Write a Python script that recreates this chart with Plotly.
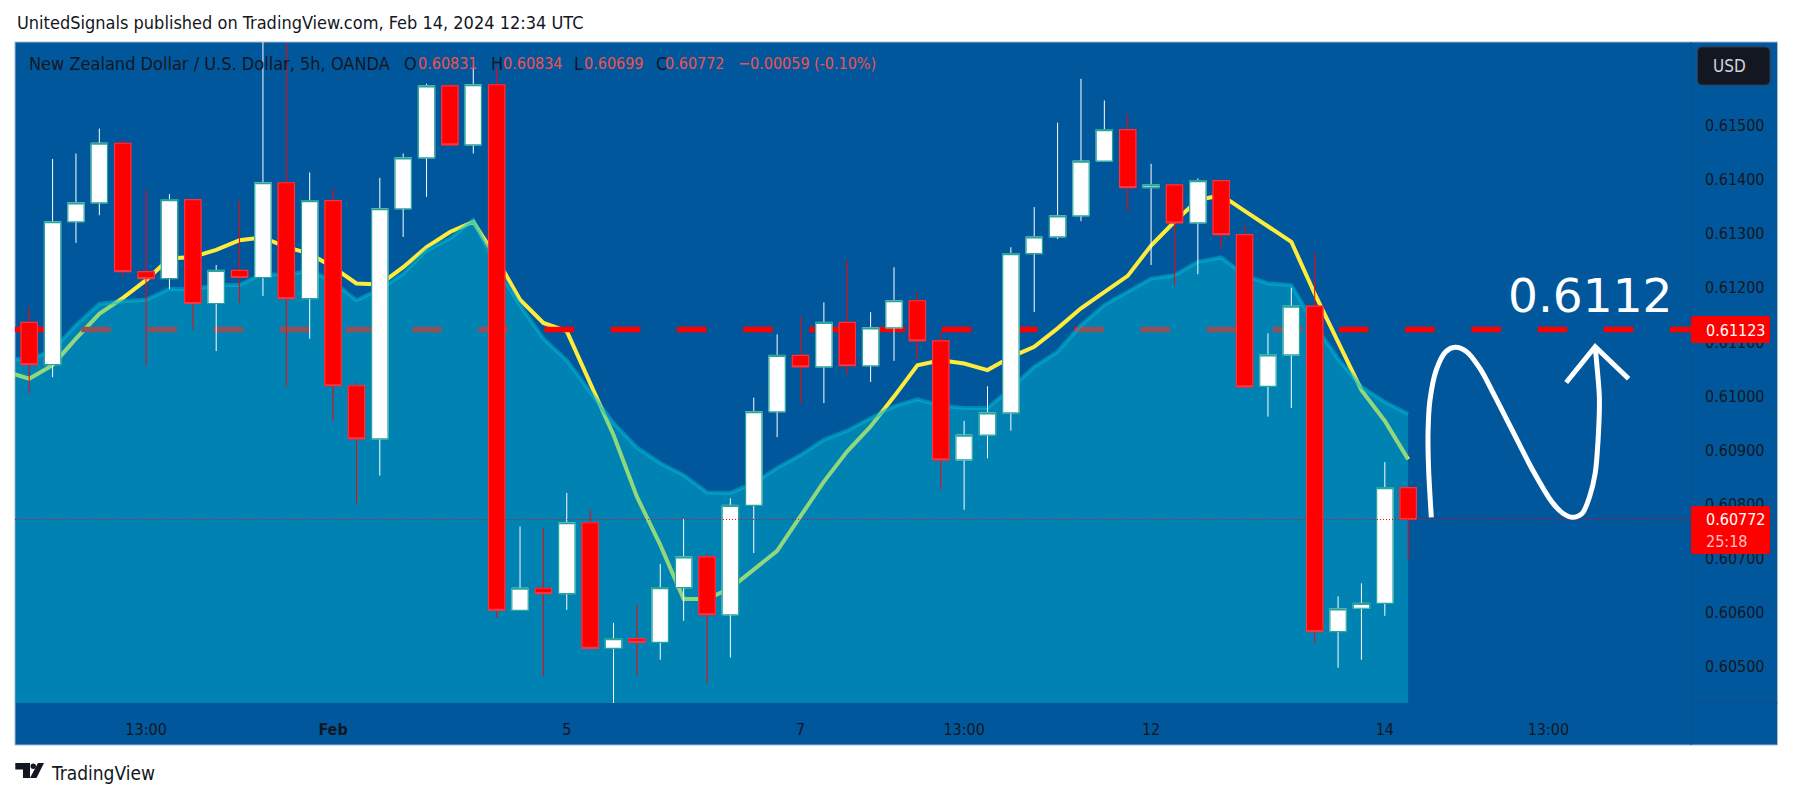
# -*- coding: utf-8 -*-
import plotly.graph_objects as go

# ============================
# DATA
# ============================
bar_index = list(range(60))

open_ = [0.61136, 0.61058, 0.61322, 0.61357, 0.61467, 0.61230, 0.61217, 0.61363, 0.61171, 0.61232,
         0.61219, 0.61394, 0.61180, 0.61361, 0.61019, 0.60921, 0.61346, 0.61440, 0.61573, 0.61464,
         0.61575, 0.60604, 0.60645, 0.60635, 0.60766, 0.60534, 0.60552, 0.60545, 0.60646, 0.60703,
         0.60596, 0.60798, 0.60971, 0.61075, 0.61054, 0.61136, 0.61056, 0.61126, 0.61176, 0.61102,
         0.60882, 0.60928, 0.60969, 0.61263, 0.61294, 0.61333, 0.61434, 0.61492, 0.61385, 0.61390,
         0.61320, 0.61398, 0.61298, 0.61018, 0.61076, 0.61166, 0.60565, 0.60608, 0.60617, 0.60831]
high = [0.61165, 0.61438, 0.61448, 0.61494, 0.61474, 0.61381, 0.61373, 0.61363, 0.61242, 0.61362,
        0.61654, 0.61651, 0.61413, 0.61383, 0.61025, 0.61403, 0.61448, 0.61577, 0.61577, 0.61608,
        0.61608, 0.60759, 0.60756, 0.60821, 0.60791, 0.60581, 0.60614, 0.60690, 0.60773, 0.60709,
        0.60811, 0.60997, 0.61114, 0.61147, 0.61173, 0.61251, 0.61155, 0.61238, 0.61192, 0.61118,
        0.60954, 0.61018, 0.61275, 0.61349, 0.61505, 0.61586, 0.61546, 0.61520, 0.61429, 0.61390,
        0.61402, 0.61398, 0.61315, 0.61116, 0.61200, 0.61267, 0.60630, 0.60654, 0.60878, 0.60834]
low = [0.61005, 0.61035, 0.61283, 0.61334, 0.61220, 0.61056, 0.61198, 0.61123, 0.61083, 0.61172,
       0.61185, 0.61017, 0.61106, 0.60954, 0.60801, 0.60853, 0.61294, 0.61368, 0.61462, 0.61448,
       0.60590, 0.60604, 0.60482, 0.60605, 0.60534, 0.60433, 0.60483, 0.60513, 0.60585, 0.60469,
       0.60517, 0.60710, 0.60924, 0.60987, 0.60987, 0.61040, 0.61026, 0.61065, 0.61068, 0.60828,
       0.60790, 0.60885, 0.60936, 0.61155, 0.61290, 0.61323, 0.61434, 0.61341, 0.61242, 0.61205,
       0.61225, 0.61272, 0.61015, 0.60962, 0.60978, 0.60544, 0.60498, 0.60513, 0.60594, 0.60699]
close = [0.61058, 0.61322, 0.61357, 0.61467, 0.61230, 0.61217, 0.61363, 0.61171, 0.61232, 0.61219,
         0.61394, 0.61180, 0.61361, 0.61019, 0.60921, 0.61346, 0.61440, 0.61573, 0.61464, 0.61575,
         0.60604, 0.60645, 0.60635, 0.60766, 0.60534, 0.60552, 0.60545, 0.60646, 0.60703, 0.60596,
         0.60798, 0.60971, 0.61075, 0.61054, 0.61136, 0.61056, 0.61126, 0.61176, 0.61102, 0.60882,
         0.60928, 0.60969, 0.61263, 0.61294, 0.61333, 0.61434, 0.61492, 0.61385, 0.61390, 0.61320,
         0.61398, 0.61298, 0.61017, 0.61076, 0.61166, 0.60565, 0.60607, 0.60617, 0.60831, 0.60772]

# moving averages start one bar before the first visible candle
ma_index = list(range(-1, 60))
ma_yellow = [0.61045, 0.61032, 0.61057, 0.61106, 0.61152, 0.61181, 0.61214, 0.61254, 0.61257, 0.61270,
             0.61288, 0.61293, 0.61275, 0.61263, 0.61238, 0.61208, 0.61206, 0.61238, 0.61275, 0.61303,
             0.61322, 0.61254, 0.61178, 0.61135, 0.61120, 0.61023, 0.60928, 0.60814, 0.60725, 0.60625,
             0.60625, 0.60645, 0.60679, 0.60714, 0.60778, 0.60842, 0.60898, 0.60944, 0.60999, 0.61057,
             0.61066, 0.61060, 0.61048, 0.61072, 0.61091, 0.61125, 0.61162, 0.61192, 0.61222, 0.61278,
             0.61322, 0.61362, 0.61371, 0.61342, 0.61314, 0.61285, 0.61189, 0.61100, 0.61011, 0.60954,
             0.60883]
ma_area = [0.61069, 0.61067, 0.61085, 0.61131, 0.61170, 0.61175, 0.61178, 0.61198, 0.61197, 0.61205,
           0.61205, 0.61226, 0.61223, 0.61232, 0.61211, 0.61177, 0.61197, 0.61226, 0.61269, 0.61291,
           0.61325, 0.61238, 0.61168, 0.61106, 0.61066, 0.61008, 0.60950, 0.60905, 0.60876, 0.60854,
           0.60822, 0.60821, 0.60839, 0.60867, 0.60891, 0.60919, 0.60936, 0.60959, 0.60981, 0.60994,
           0.60982, 0.60978, 0.60978, 0.61014, 0.61054, 0.61082, 0.61131, 0.61168, 0.61192, 0.61217,
           0.61223, 0.61248, 0.61256, 0.61223, 0.61208, 0.61205, 0.61131, 0.61069, 0.61017, 0.60989,
           0.60967]

level_price = 0.61123
last_price = 0.60772

# hand drawn path on the right
drawn_x = [59.99, 59.87, 59.85, 59.93, 60.20, 60.61, 61.01, 61.50, 62.07, 62.75, 63.52, 64.33,
           65.14, 65.63, 66.03, 66.44, 66.76, 67.00, 67.12, 67.18, 67.08, 67.00]
drawn_y = [0.60776, 0.60869, 0.60934, 0.60992, 0.61048, 0.61082, 0.61090, 0.61082, 0.61051, 0.60996,
           0.60931, 0.60863, 0.60805, 0.60783, 0.60776, 0.60783, 0.60814, 0.60857, 0.60916, 0.60996,
           0.61054, 0.61091]
head_x = [65.76, 67.00, 68.43]
head_y = [0.61025, 0.61091, 0.61032]

price_ticks = [0.605, 0.606, 0.607, 0.608, 0.609, 0.610, 0.611, 0.612, 0.613, 0.614, 0.615]
time_ticks = [5, 13, 23, 33, 40, 48, 58, 65]
time_labels = ["13:00", "<b>Feb</b>", "5", "7", "13:00", "12", "14", "13:00"]

# ============================
# LAYOUT CONSTANTS
# ============================
W, H = 1793, 798
L, R, T, B = 15, 1691, 42, 703
FRAME_R = 1777.5
BG = "#01579b"
DARK = "#131722"
RED = "#ff0000"
LEGEND_RED = "#f0504f"
FONT = "DejaVu Sans Condensed"
x_range = [-0.608, 71.1]
y_range = [0.60433, 0.61654]


def px(x):
    return (x - L) / (R - L)


def py(y):
    return 1 - (y - T) / (B - T)


def paper_path(points):
    return "M " + " L ".join(f"{px(x):.5f},{py(y):.5f}" for x, y in points) + " Z"


def round_rect(x0, y0, x1, y1, r):
    a, b = px(x0), py(y0)
    c, d = px(x1), py(y1)
    rx, ry = r / (R - L), r / (B - T)
    return (f"M {a + rx:.5f},{b:.5f} L {c - rx:.5f},{b:.5f} Q {c:.5f},{b:.5f} {c:.5f},{b - ry:.5f} "
            f"L {c:.5f},{d + ry:.5f} Q {c:.5f},{d:.5f} {c - rx:.5f},{d:.5f} L {a + rx:.5f},{d:.5f} "
            f"Q {a:.5f},{d:.5f} {a:.5f},{d + ry:.5f} L {a:.5f},{b - ry:.5f} Q {a:.5f},{b:.5f} {a + rx:.5f},{b:.5f} Z")


fig = go.Figure()

# ============================
# TRACES
# ============================
# order matters: the area sits on top of the yellow line and the dashed level
fig.add_trace(go.Scatter(x=ma_index, y=ma_yellow, mode="lines",
                         line=dict(color="#ffeb3b", width=4)))
fig.add_trace(go.Scatter(x=x_range, y=[level_price, level_price], mode="lines",
                         line=dict(color=RED, width=5.5, dash="29.5px,36.7px")))
fig.add_trace(go.Scatter(x=ma_index, y=ma_area, mode="lines", fill="tozeroy",
                         fillcolor="rgba(0,188,212,0.43)",
                         line=dict(color="rgba(0,188,212,0.5)", width=4)))

# candles go on overlay axes, otherwise scatter would paint over them
fig.add_trace(go.Candlestick(x=bar_index, open=open_, high=high, low=low, close=close,
                             xaxis="x2", yaxis="y2", whiskerwidth=0,
                             increasing=dict(fillcolor="#ffffff", line=dict(color="#ffffff", width=1)),
                             decreasing=dict(fillcolor=RED, line=dict(color=RED, width=1))))
body_high = [max(o, c) for o, c in zip(open_, close)]
body_low = [min(o, c) for o, c in zip(open_, close)]
fig.add_trace(go.Candlestick(x=bar_index, open=open_, high=body_high, low=body_low, close=close,
                             xaxis="x2", yaxis="y2", whiskerwidth=0,
                             increasing=dict(fillcolor="#ffffff", line=dict(color="#26a69a", width=1.2)),
                             decreasing=dict(fillcolor=RED, line=dict(color="#f23645", width=1.2))))

fig.add_trace(go.Scatter(x=x_range, y=[last_price, last_price], mode="lines", xaxis="x2", yaxis="y2",
                         line=dict(color=RED, width=1, dash="1px,2px")))
fig.add_trace(go.Scatter(x=drawn_x, y=drawn_y, mode="lines", xaxis="x2", yaxis="y2",
                         line=dict(color="#ffffff", width=5, shape="spline", smoothing=0.9)))
fig.add_trace(go.Scatter(x=head_x, y=head_y, mode="lines", xaxis="x2", yaxis="y2",
                         line=dict(color="#ffffff", width=5)))

# ============================
# SHAPES
# ============================
shapes = [
    # strip under the chart and the price column behind the ticks
    dict(type="rect", xref="paper", yref="paper", layer="below", x0=px(15), x1=px(FRAME_R),
         y0=py(42), y1=py(745), fillcolor=BG, line=dict(color="#a3b8d1", width=1)),
    dict(type="line", xref="paper", yref="paper", layer="below", x0=px(R), x1=px(R),
         y0=py(42), y1=py(745), line=dict(color="#0a5090", width=1)),
    dict(type="line", xref="paper", yref="paper", layer="below", x0=px(R), x1=px(FRAME_R),
         y0=py(703), y1=py(703), line=dict(color="#0a5090", width=1)),
    # price tags, they hide the tick labels underneath
    dict(type="path", xref="paper", yref="paper", path=round_rect(R, 316, 1770, 343, 2),
         fillcolor=RED, line=dict(width=0)),
    dict(type="path", xref="paper", yref="paper", path=round_rect(R, 506, 1770, 554, 2),
         fillcolor=RED, line=dict(width=0)),
    dict(type="path", xref="paper", yref="paper", path=round_rect(1697.5, 47, 1770, 85, 5),
         fillcolor=DARK, line=dict(color="#363a45", width=1)),
    # TradingView logo
    dict(type="path", xref="paper", yref="paper", fillcolor=DARK, line=dict(width=0),
         path=paper_path([(15.3, 763), (30, 763), (30, 778), (23, 778), (23, 769.5), (15.3, 769.5)])),
    dict(type="circle", xref="paper", yref="paper", fillcolor=DARK, line=dict(width=0),
         x0=px(30.5), x1=px(36), y0=py(763.5), y1=py(769)),
    dict(type="path", xref="paper", yref="paper", fillcolor=DARK, line=dict(width=0),
         path=paper_path([(38, 763), (44, 763), (36.5, 778), (30, 778)])),
]

# ============================
# ANNOTATIONS
# ============================
def label(text, x, y, size, color, anchor="left", family=FONT):
    return dict(text=text, xref="paper", yref="paper", x=px(x), y=py(y), xanchor=anchor,
                yanchor="middle", showarrow=False, font=dict(family=family, size=size, color=color))


legend_parts = [
    ("New Zealand Dollar / U.S. Dollar, 5h, OANDA", 27, 18, DARK),
    ("O", 402, 18, DARK), ("0.60831", 416, 16, LEGEND_RED),
    ("H", 489, 18, DARK), ("0.60834", 501, 16, LEGEND_RED),
    ("L", 572, 18, DARK), ("0.60699", 582, 16, LEGEND_RED),
    ("C", 654, 18, DARK), ("0.60772", 663, 16, LEGEND_RED),
    ("\u22120.00059", 736, 16, LEGEND_RED), ("(-0.10%)", 812, 16, LEGEND_RED),
]

annotations = [label(t, x, 63.5, s, c) for t, x, s, c in legend_parts]
annotations += [
    label("UnitedSignals published on TradingView.com, Feb 14, 2024 12:34 UTC", 15, 23, 18, DARK),
    label("0.6112", 1590, 295, 47, "#ffffff", anchor="center", family="DejaVu Sans"),
    label("USD", 1711, 66, 17, "#d1d4dc"),
    label("0.61123", 1704, 330, 16, "#ffffff"),
    label("0.60772", 1704, 519.5, 16, "#ffffff"),
    label("25:18", 1704, 541, 16, "#ffc4c4"),
    label("TradingView", 49, 773, 19, DARK),
]

# ============================
# FIGURE
# ============================
fig.update_layout(
    width=W, height=H,
    margin=dict(l=L, r=W - R, t=T, b=H - B, pad=0),
    paper_bgcolor="#ffffff",
    plot_bgcolor=BG,
    showlegend=False,
    boxmode="overlay",
    boxgap=0.3,
    boxgroupgap=0,
    shapes=shapes,
    annotations=annotations,
    font=dict(family=FONT, size=16, color=DARK),
    xaxis=dict(range=x_range, showgrid=False, zeroline=False, showline=False,
               tickmode="array", tickvals=time_ticks, ticktext=time_labels,
               ticks="outside", ticklen=12, tickcolor="rgba(0,0,0,0)",
               tickfont=dict(family=FONT, size=16, color=DARK)),
    yaxis=dict(range=y_range, side="right", showgrid=False, zeroline=False, showline=False,
               tickmode="array", tickvals=price_ticks, ticktext=[f"{p:.5f}" for p in price_ticks],
               ticks="", ticklabelstandoff=13,
               tickfont=dict(family=FONT, size=16, color=DARK)),
    xaxis2=dict(range=x_range, overlaying="x", visible=False, rangeslider=dict(visible=False)),
    yaxis2=dict(range=y_range, overlaying="y", side="right", visible=False),
)

# browser default body margin would push the whole figure 8px off
fig.write_html("out.html", config={"displayModeBar": False},
               post_script="document.body.style.margin='0';")
